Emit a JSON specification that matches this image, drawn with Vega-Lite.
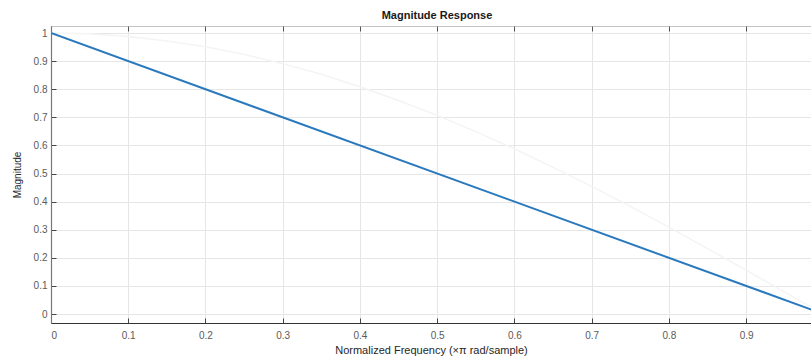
{
  "$schema": "https://vega.github.io/schema/vega-lite/v6.json",
  "autosize": "none",
  "width": 760,
  "height": 297,
  "padding": {"left": 51, "top": 26, "right": 0, "bottom": 35},
  "background": "white",
  "config": {
    "font": "Liberation Sans",
    "view": {"stroke": "#c4c4c4", "strokeWidth": 1}
  },
  "title": {
    "text": "Magnitude Response",
    "fontSize": 11,
    "fontWeight": "bold",
    "color": "#1a1a1a",
    "font": "Liberation Sans",
    "offset": 5,
    "dx": 6
  },
  "datasets": {
    "resp": [
      {"f": 0, "mag": 1},
      {"f": 1, "mag": 0}
    ],
    "ghost": [
      {"f": 0, "mag": 1.0},
      {"f": 0.05, "mag": 0.997},
      {"f": 0.1, "mag": 0.988},
      {"f": 0.15, "mag": 0.972},
      {"f": 0.2, "mag": 0.951},
      {"f": 0.25, "mag": 0.924},
      {"f": 0.3, "mag": 0.891},
      {"f": 0.35, "mag": 0.853},
      {"f": 0.4, "mag": 0.809},
      {"f": 0.45, "mag": 0.76},
      {"f": 0.5, "mag": 0.707},
      {"f": 0.55, "mag": 0.649},
      {"f": 0.6, "mag": 0.588},
      {"f": 0.65, "mag": 0.522},
      {"f": 0.7, "mag": 0.454},
      {"f": 0.75, "mag": 0.383},
      {"f": 0.8, "mag": 0.309},
      {"f": 0.85, "mag": 0.233},
      {"f": 0.9, "mag": 0.156},
      {"f": 0.95, "mag": 0.078},
      {"f": 1.0, "mag": 0.0}
    ]
  },
  "resolve": {"axis": {"x": "independent", "y": "independent"}},
  "layer": [
    {
      "data": {"name": "ghost"},
      "mark": {"type": "line", "color": "#f4f4f4", "strokeWidth": 1.5, "clip": true},
      "encoding": {
        "x": {
          "field": "f", "type": "quantitative",
          "scale": {"domain": [0, 0.984], "nice": false, "zero": false},
          "axis": {
            "orient": "top", "labels": false, "title": null, "grid": false, "domain": false,
            "values": [0, 0.1, 0.2, 0.3, 0.4, 0.5, 0.6, 0.7, 0.8, 0.9],
            "tickSize": -5, "tickColor": "#555555", "tickWidth": 1
          }
        },
        "y": {
          "field": "mag", "type": "quantitative",
          "scale": {"domain": [-0.032, 1.025], "nice": false, "zero": false},
          "axis": null
        }
      }
    },
    {
      "data": {"name": "resp"},
      "mark": {"type": "line", "color": "#2a79bd", "strokeWidth": 2, "clip": true},
      "encoding": {
        "x": {
          "field": "f", "type": "quantitative",
          "axis": {
            "orient": "bottom",
            "title": "Normalized Frequency (×π rad/sample)",
            "titleFont": "Liberation Sans", "titleFontSize": 11, "titleFontWeight": "normal",
            "titleColor": "#262626", "titlePadding": 4, "titleDx": 6,
            "values": [0, 0.1, 0.2, 0.3, 0.4, 0.5, 0.6, 0.7, 0.8, 0.9],
            "format": "~g",
            "labelFontSize": 10, "labelColor": "#5a5a5a", "labelPadding": 12,
            "domainColor": "#333333", "domainWidth": 1.2,
            "tickSize": -5, "tickColor": "#444444", "tickWidth": 1,
            "grid": true, "gridColor": "#e6e6e6", "gridWidth": 1
          }
        },
        "y": {
          "field": "mag", "type": "quantitative",
          "axis": {
            "orient": "left",
            "title": "Magnitude",
            "titleFont": "Liberation Sans", "titleFontSize": 10, "titleFontWeight": "normal",
            "titleColor": "#262626", "titlePadding": 11,
            "values": [0, 0.1, 0.2, 0.3, 0.4, 0.5, 0.6, 0.7, 0.8, 0.9, 1],
            "format": "~g",
            "labelFontSize": 10, "labelColor": "#5a5a5a", "labelPadding": 9,
            "domainColor": "#777777", "domainWidth": 1.2,
            "tickSize": -5, "tickColor": "#444444", "tickWidth": 1,
            "grid": true, "gridColor": "#e6e6e6", "gridWidth": 1
          }
        }
      }
    }
  ]
}
